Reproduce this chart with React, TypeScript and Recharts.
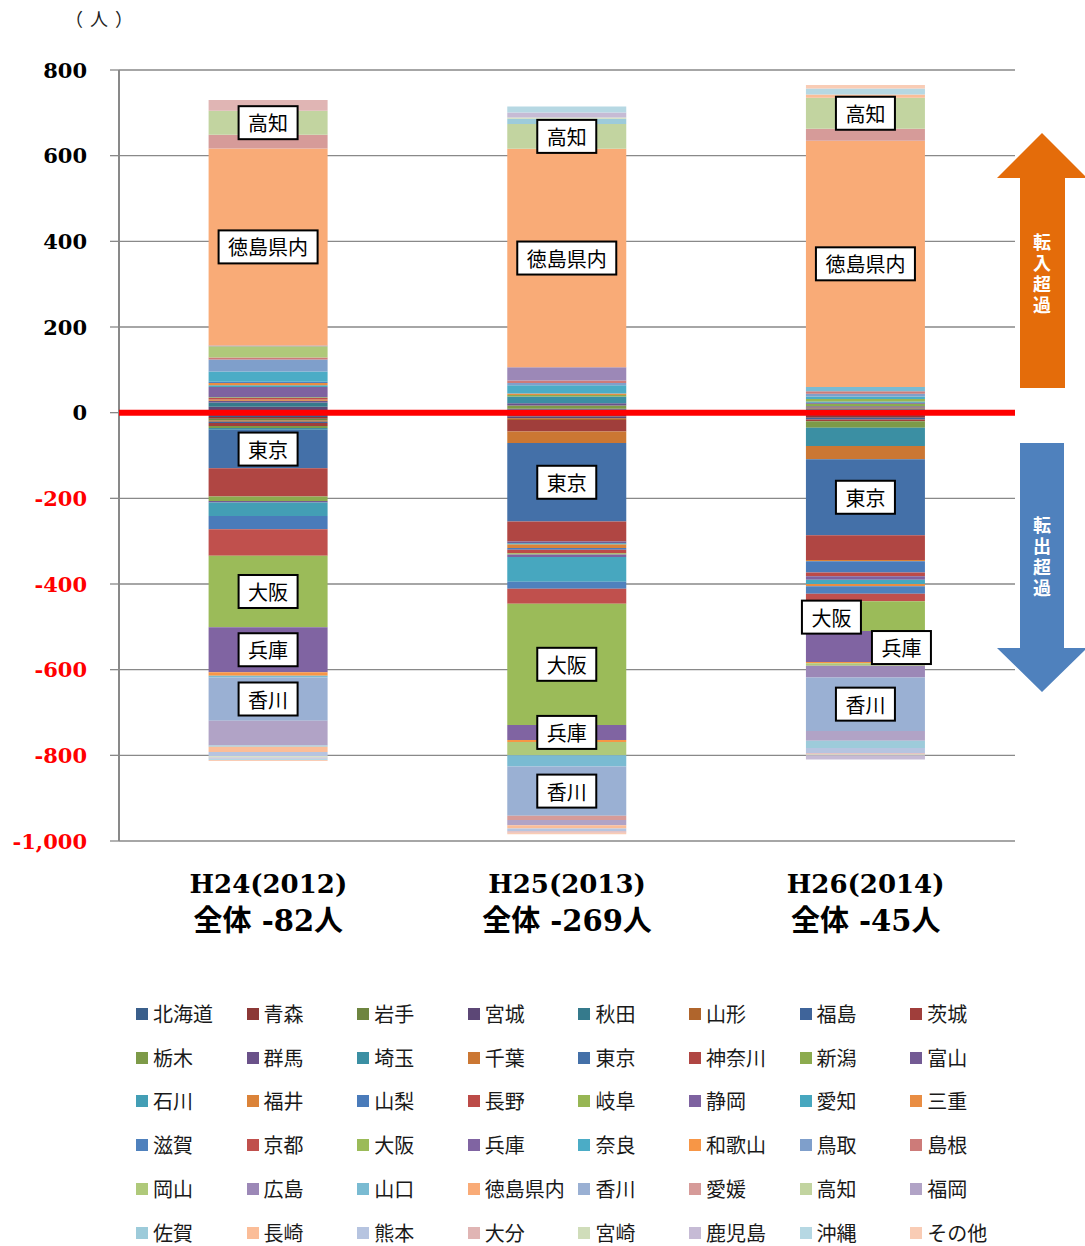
import React from 'react';
import { BarChart, Bar, XAxis, YAxis, CartesianGrid, ReferenceLine, LabelList } from 'recharts';

const categories = ['H24(2012)', 'H25(2013)', 'H26(2014)'];
const totals = ['全体 -82人', '全体 -269人', '全体 -45人'];
const yTicks = [-1000, -800, -600, -400, -200, 0, 200, 400, 600, 800];

const seriesNames = [
  '北海道', '青森', '岩手', '宮城', '秋田', '山形', '福島', '茨城',
  '栃木', '群馬', '埼玉', '千葉', '東京', '神奈川', '新潟', '富山',
  '石川', '福井', '山梨', '長野', '岐阜', '静岡', '愛知', '三重',
  '滋賀', '京都', '大阪', '兵庫', '奈良', '和歌山', '鳥取', '島根',
  '岡山', '広島', '山口', '徳島県内', '香川', '愛媛', '高知', '福岡',
  '佐賀', '長崎', '熊本', '大分', '宮崎', '鹿児島', '沖縄', 'その他',
];

const seriesColors = [
  '#3A5F8B', '#8C3836', '#6E8540', '#5C4776', '#357A8C', '#B0652C', '#3F649A', '#A03E3B',
  '#7D9A48', '#6A5189', '#3B8FA3', '#CB7733', '#4470A8', '#B04643', '#8CAB4E', '#735A94',
  '#439EB5', '#DB8339', '#4A7BBA', '#BC4B48', '#97B654', '#7E62A0', '#47A7BF', '#E98D43',
  '#4F81BD', '#C0504D', '#9BBB59', '#8064A2', '#4BACC6', '#F79646', '#7F9FCB', '#CD7B79',
  '#AFC97A', '#9C88B7', '#7ABBD2', '#F9AB77', '#9AB0D3', '#D69B99', '#C2D4A0', '#B1A3C6',
  '#9DCBDA', '#FBBD98', '#B6C4E0', '#E0B5B4', '#D0DDBA', '#C6BBD5', '#B6D8E3', '#F9CCB5',
];

// values per series: [H24, H25, H26]
const seriesValues: number[][] = [
  [-10, -5, -8], [-4, -4, -4], [-4, 3, 3], [14, -4, 4], [10, 4, 3], [-3, -4, 2], [-3, 2, -4], [-7, -27, -4],
  [-5, 8, -15], [3, 5, 3], [-4, 16, -43], [2, -27, -31], [-90, -183, -177], [-66, -47, -58], [-10, 3, 6], [-4, -4, 2],
  [-31, -3, 3], [2, -8, -3], [-31, -4, -26], [3, -8, -9], [2, -3, 6], [24, -6, -8], [4, -58, -10], [5, 4, -5],
  [3, -16, -18], [-62, -35, -17], [-167, -283, -70], [-105, -35, -72], [24, 19, 6], [-8, -5, -3], [28, 5, 6], [5, 6, 6],
  [26, -31, -6], [2, 31, -27], [-4, -26, 10], [460, 510, 575], [-101, -115, -125], [32, -10, 28], [56, 58, 72], [-58, -12, -23],
  [-3, 12, -17], [-12, -8, 8], [-10, -6, -12], [25, -4, -3], [-3, 3, -2], [-3, 12, -10], [-3, 14, 14], [-2, -3, 8],
];

const labeledSeries = ['高知', '徳島県内', '東京', '大阪', '兵庫', '香川'];
// label box shifts (only where the original moves a label off centre)
const labelShift: Record<string, { dx: number; dy: number }[]> = {
  '大阪': [{ dx: 0, dy: 0 }, { dx: 0, dy: 0 }, { dx: -34, dy: 1 }],
  '兵庫': [{ dx: 0, dy: 0 }, { dx: 0, dy: 0 }, { dx: 36, dy: 1 }],
};

const data = categories.map((name, ci) => {
  const row: Record<string, string | number> = { name };
  seriesNames.forEach((_, si) => {
    row[`s${si}`] = seriesValues[si][ci];
  });
  return row;
});

const W = 1085;
const H = 960;
const margin = { top: 70, right: 70, bottom: 19, left: 0 };
const serif = "'DejaVu Serif', 'Noto Sans CJK JP', serif";
const gothic = "'Noto Sans CJK JP', 'Noto Sans', sans-serif";

const YTick = (props: any) => {
  const { y, payload } = props;
  const v = payload.value as number;
  return (
    <text x={87} y={y} textAnchor="end" dominantBaseline="central" fontFamily={serif} fontWeight="bold" fontSize={21} fill={v < 0 ? '#FF0000' : '#000000'}>
      {v.toLocaleString('en-US')}
    </text>
  );
};

const XTick = (props: any) => {
  const { x, payload } = props;
  const idx = categories.indexOf(payload.value);
  return (
    <g>
      <text x={x} y={884} textAnchor="middle" dominantBaseline="central" fontFamily={serif} fontWeight="bold" fontSize={26} fill="#000">
        {payload.value}
      </text>
      <text x={x} y={921} textAnchor="middle" dominantBaseline="central" fontFamily={serif} fontWeight="bold" fontSize={29} fill="#000">
        {totals[idx]}
      </text>
    </g>
  );
};

const makeLabel = (name: string) => (props: any) => {
  const vb = props.viewBox && props.viewBox.width !== undefined ? props.viewBox : props;
  const x = Number(vb.x);
  const y = Number(vb.y);
  const w = Number(vb.width);
  const h = Number(vb.height);
  const idx = props.index ?? 0;
  const shift = labelShift[name] ? labelShift[name][idx] : { dx: 0, dy: 0 };
  const cx = x + w / 2 + shift.dx;
  const cy = y + h / 2 + shift.dy;
  const bw = name.length * 20 + 19;
  const bh = 33;
  return (
    <g>
      <rect x={cx - bw / 2} y={cy - bh / 2} width={bw} height={bh} fill="#ffffff" stroke="#000000" strokeWidth={2} />
      <text x={cx} y={cy} textAnchor="middle" dominantBaseline="central" fontFamily={gothic} fontSize={20} fill="#000">
        {name}
      </text>
    </g>
  );
};

const Arrows = () => (
  <svg width={W} height={1246} style={{ position: 'absolute', left: 0, top: 0, pointerEvents: 'none' }}>
    <polygon points="1042,133 997,178 1020,178 1020,388 1065,388 1065,178 1087,178" fill="#E46C0A" />
    <polygon points="1020,443 1064,443 1064,648 1087,648 1042,692 997,648 1020,648" fill="#4F81BD" />
    <text x={1042} y={233} style={{ writingMode: 'vertical-rl' }} fontFamily={gothic} fontWeight="bold" fontSize={18} letterSpacing={3} fill="#fff">転入超過</text>
    <text x={1042} y={516} style={{ writingMode: 'vertical-rl' }} fontFamily={gothic} fontWeight="bold" fontSize={18} letterSpacing={3} fill="#fff">転出超過</text>
  </svg>
);

const LegendBlock = () => (
  <div style={{ position: 'absolute', left: 0, top: 0, width: W, height: 1246, pointerEvents: 'none' }}>
    {seriesNames.map((n, i) => {
      const col = i % 8;
      const row = Math.floor(i / 8);
      const left = 136 + col * 110.6;
      const cy = 1014 + row * 43.7;
      return (
        <div key={n} style={{ position: 'absolute', left, top: cy - 14, height: 28, display: 'flex', alignItems: 'center', whiteSpace: 'nowrap' }}>
          <div style={{ width: 12, height: 12, background: seriesColors[i], marginRight: 5 }} />
          <span style={{ fontFamily: gothic, fontSize: 20, color: '#1a1a1a', lineHeight: '28px' }}>{n}</span>
        </div>
      );
    })}
  </div>
);

const UnitLabel = () => (
  <svg width={140} height={36} style={{ position: 'absolute', left: 0, top: 0 }}>
    <text x={74} y={18} textAnchor="middle" dominantBaseline="central" fontFamily={gothic} fontSize={18} fill="#222">（</text>
    <text x={99} y={18} textAnchor="middle" dominantBaseline="central" fontFamily={gothic} fontSize={18} fill="#222">人</text>
    <text x={124} y={18} textAnchor="middle" dominantBaseline="central" fontFamily={gothic} fontSize={18} fill="#222">）</text>
  </svg>
);

export default function App() {
  return (
    <div style={{ position: 'absolute', left: 0, top: 0, width: W, height: 1246, background: '#ffffff', overflow: 'hidden' }}>
      <UnitLabel />
      <div style={{ position: 'absolute', left: 0, top: 0 }}>
        <BarChart width={W} height={H} data={data} margin={margin} stackOffset="sign" barCategoryGap="30%">
          <CartesianGrid vertical={false} stroke="#898989" strokeWidth={1.3} />
          <XAxis dataKey="name" axisLine={false} tickLine={false} height={100} tick={<XTick />} interval={0} />
          <YAxis
            width={119}
            domain={[-1000, 800]}
            ticks={yTicks}
            interval={0}
            tickSize={9}
            axisLine={{ stroke: '#898989', strokeWidth: 2 }}
            tickLine={{ stroke: '#898989', strokeWidth: 1.3 }}
            tick={<YTick />}
          />
          {seriesNames.map((n, i) => (
            <Bar key={n} dataKey={`s${i}`} name={n} stackId="a" fill={seriesColors[i]} isAnimationActive={false} />
          ))}
        </BarChart>
      </div>
      <div style={{ position: 'absolute', left: 0, top: 0 }}>
        <BarChart width={W} height={H} data={data} margin={margin} stackOffset="sign" barCategoryGap="30%">
          <XAxis dataKey="name" axisLine={false} tickLine={false} height={100} tick={false} />
          <YAxis width={119} domain={[-1000, 800]} ticks={yTicks} axisLine={false} tickLine={false} tick={false} />
          {seriesNames.map((n, i) => (
            <Bar key={n} dataKey={`s${i}`} name={n} stackId="a" fill="transparent" fillOpacity={0} isAnimationActive={false}>
              {labeledSeries.includes(n) ? <LabelList dataKey={`s${i}`} content={makeLabel(n)} /> : null}
            </Bar>
          ))}
          <ReferenceLine y={0} stroke="#FF0000" strokeWidth={6} />
        </BarChart>
      </div>
      <Arrows />
      <LegendBlock />
    </div>
  );
}
